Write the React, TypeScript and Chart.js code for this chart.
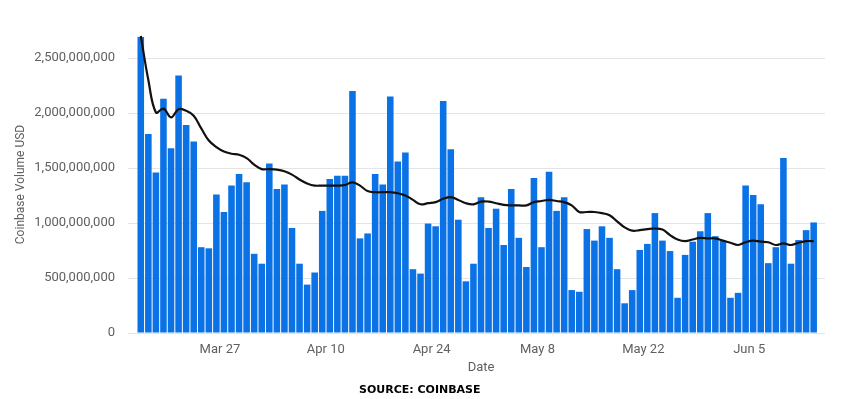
import React, { useEffect, useRef } from "react";
import { Chart, registerables } from "chart.js";

Chart.register(...registerables);

// Daily Coinbase volume (USD), Mar 16 – Jun 13
const volumes: number[] = [
  2.69e9, 1.81e9, 1.46e9, 2.13e9, 1.68e9, 2.34e9, 1.89e9, 1.74e9, 0.78e9, 0.77e9,
  1.26e9, 1.1e9, 1.34e9, 1.445e9, 1.37e9, 0.72e9, 0.63e9, 1.54e9, 1.31e9, 1.35e9,
  0.955e9, 0.63e9, 0.44e9, 0.55e9, 1.11e9, 1.4e9, 1.43e9, 1.43e9, 2.2e9, 0.86e9,
  0.905e9, 1.445e9, 1.35e9, 2.15e9, 1.56e9, 1.64e9, 0.58e9, 0.54e9, 0.995e9, 0.97e9,
  2.11e9, 1.67e9, 1.03e9, 0.47e9, 0.63e9, 1.235e9, 0.955e9, 1.13e9, 0.8e9, 1.31e9,
  0.865e9, 0.6e9, 1.41e9, 0.78e9, 1.465e9, 1.11e9, 1.235e9, 0.39e9, 0.375e9, 0.945e9,
  0.84e9, 0.97e9, 0.865e9, 0.58e9, 0.27e9, 0.39e9, 0.755e9, 0.81e9, 1.09e9, 0.84e9,
  0.745e9, 0.32e9, 0.71e9, 0.83e9, 0.925e9, 1.09e9, 0.88e9, 0.84e9, 0.32e9, 0.365e9,
  1.34e9, 1.255e9, 1.17e9, 0.635e9, 0.78e9, 1.59e9, 0.63e9, 0.845e9, 0.935e9, 1.005e9,
];

// Smoothed trend line
const trend: number[] = [
  2.7e9, 2.3e9, 2.005e9, 2.04e9, 1.96e9, 2.035e9, 2.02e9, 1.975e9, 1.86e9, 1.75e9,
  1.69e9, 1.65e9, 1.63e9, 1.62e9, 1.59e9, 1.53e9, 1.49e9, 1.49e9, 1.485e9, 1.47e9,
  1.44e9, 1.395e9, 1.36e9, 1.34e9, 1.34e9, 1.34e9, 1.34e9, 1.345e9, 1.37e9, 1.34e9,
  1.29e9, 1.28e9, 1.28e9, 1.28e9, 1.27e9, 1.25e9, 1.21e9, 1.17e9, 1.18e9, 1.19e9,
  1.22e9, 1.235e9, 1.21e9, 1.18e9, 1.17e9, 1.195e9, 1.195e9, 1.18e9, 1.165e9, 1.16e9,
  1.16e9, 1.16e9, 1.19e9, 1.2e9, 1.21e9, 1.2e9, 1.19e9, 1.16e9, 1.1e9, 1.1e9,
  1.1e9, 1.09e9, 1.07e9, 1.015e9, 0.96e9, 0.93e9, 0.935e9, 0.945e9, 0.95e9, 0.94e9,
  0.89e9, 0.85e9, 0.835e9, 0.85e9, 0.865e9, 0.86e9, 0.86e9, 0.84e9, 0.82e9, 0.8e9,
  0.825e9, 0.84e9, 0.83e9, 0.825e9, 0.8e9, 0.815e9, 0.8e9, 0.82e9, 0.835e9, 0.835e9,
];

const monthNames = ["Jan", "Feb", "Mar", "Apr", "May", "Jun", "Jul", "Aug", "Sep", "Oct", "Nov", "Dec"];
const startMonth = 2; // March
const startDay = 16;
// one extra (empty) day at the end of the axis, as in the original
const dates: string[] = Array.from({ length: volumes.length + 1 }, (_, i) => {
  const d = new Date(2021, startMonth, startDay + i);
  return `${monthNames[d.getMonth()]} ${d.getDate()}`;
});

const tickLabels: string[] = ["Mar 27", "Apr 10", "Apr 24", "May 8", "May 22", "Jun 5"];
const yTicks: number[] = [0, 5e8, 1e9, 1.5e9, 2e9, 2.5e9];

const FONT = "Roboto, 'Noto Sans', sans-serif";
const TEXT = "#606060";

export default function App() {
  const ref = useRef<HTMLCanvasElement | null>(null);

  useEffect(() => {
    if (!ref.current) return;
    const chart = new Chart(ref.current, {
      type: "bar",
      data: {
        labels: dates,
        datasets: [
          {
            type: "line",
            data: trend,
            borderColor: "#111111",
            borderWidth: 2.2,
            pointRadius: 0,
            tension: 0.4,
            fill: false,
            clip: false as any,
          },
          {
            type: "bar",
            data: volumes,
            backgroundColor: "#0b72e6",
            borderWidth: 0,
            barPercentage: 1,
            categoryPercentage: 0.87,
          },
        ],
      },
      options: {
        animation: false,
        responsive: false,
        maintainAspectRatio: false,
        layout: { padding: { left: 0, top: 36, right: 25, bottom: 18 } },
        plugins: { legend: { display: false }, tooltip: { enabled: false } },
        scales: {
          x: {
            grid: { display: false, drawTicks: false },
            border: { display: false },
            afterFit: (s: any) => {
              s.height = 48;
            },
            ticks: {
              autoSkip: false,
              maxRotation: 0,
              minRotation: 0,
              padding: 9,
              labelOffset: -4,
              color: TEXT,
              font: { family: FONT, size: 13 },
              callback: (_v: any, i: number) => (tickLabels.includes(dates[i]) ? dates[i] : ""),
            },
            title: {
              display: true,
              text: "Date",
              color: TEXT,
              font: { family: FONT, size: 13 },
              padding: { top: 0, bottom: 5 },
            },
          },
          y: {
            min: 0,
            max: 2.7e9,
            afterBuildTicks: (s: any) => {
              s.ticks = yTicks.map((v) => ({ value: v }));
            },
            afterFit: (s: any) => {
              s.width = 137;
            },
            grid: { color: "#e4e4e4", tickLength: 9, lineWidth: 1 },
            border: { display: false },
            ticks: {
              padding: 13,
              color: TEXT,
              font: { family: FONT, size: 13 },
              callback: (v: any) => Number(v).toLocaleString("en-US"),
            },
            title: {
              display: true,
              text: "Coinbase Volume USD",
              color: TEXT,
              font: { family: FONT, size: 12 },
              padding: { top: 14, bottom: 0 },
            },
          },
        },
      },
    });
    return () => chart.destroy();
  }, []);

  return (
    <div style={{ position: "absolute", left: 0, top: 0, width: 850, height: 399, background: "#fff" }}>
      <canvas ref={ref} width={850} height={399} style={{ display: "block", width: 850, height: 399 }} />
      <div
        style={{
          position: "absolute",
          left: 359,
          top: 383,
          fontFamily: "'DejaVu Sans', sans-serif",
          fontWeight: "bold",
          fontSize: 11,
          letterSpacing: 0,
          color: "#000",
          whiteSpace: "nowrap",
          lineHeight: "13px",
        }}
      >
        SOURCE: COINBASE
      </div>
    </div>
  );
}
